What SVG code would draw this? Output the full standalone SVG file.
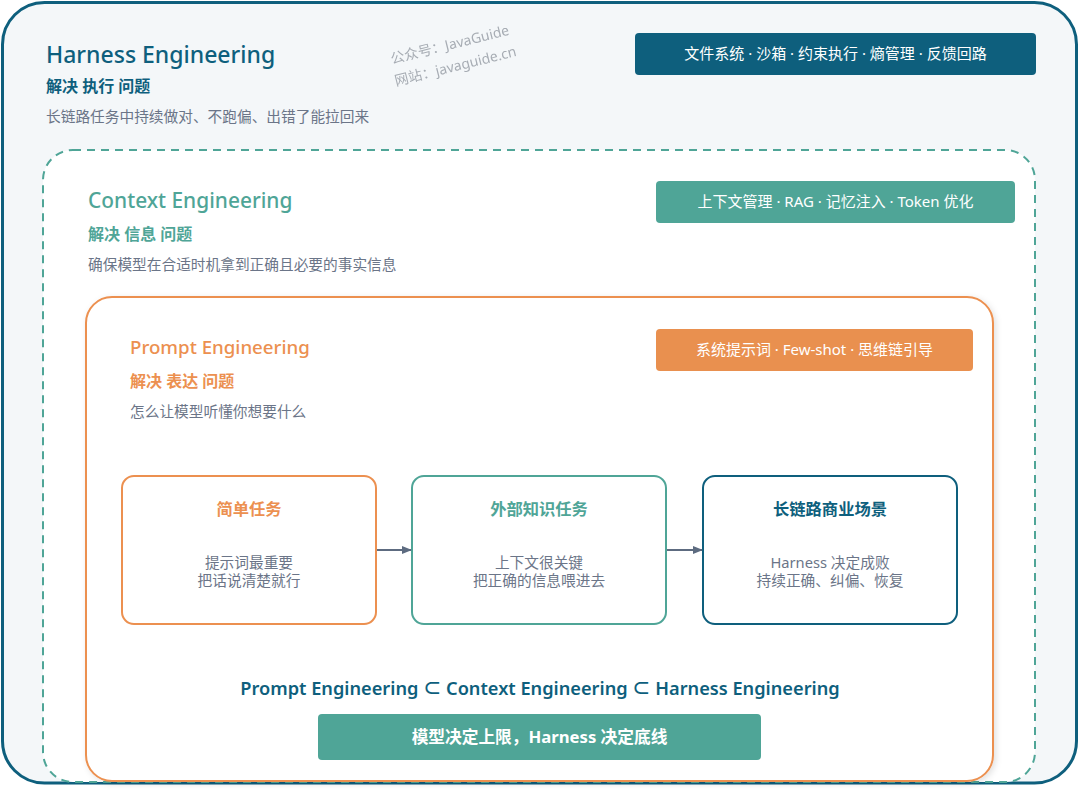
<svg xmlns="http://www.w3.org/2000/svg" width="1080" height="792" viewBox="0 0 1080 792">
<defs>
<style>
text{font-family:"Noto Sans","Noto Sans CJK SC",sans-serif;}
.h1{font-weight:500;}
.sub{font-size:16px;font-weight:700;}
.desc{font-size:14.7px;fill:#6b7588;}
.tag{font-size:15px;fill:#ffffff;text-anchor:middle;}
.btitle{font-size:16.3px;font-weight:700;text-anchor:middle;}
.bline{font-size:14.7px;fill:#6b7588;text-anchor:middle;}
.card{fill:#ffffff;stroke-width:2;}
</style>
<marker id="arr" viewBox="0 0 10 10" refX="9" refY="5" markerWidth="10" markerHeight="10" markerUnits="userSpaceOnUse" orient="auto">
<path d="M0,1 L10,5 L0,9 Z" fill="#5d6b80"/>
</marker>
<filter id="sh" x="-5%" y="-5%" width="110%" height="110%">
<feDropShadow dx="2" dy="2" stdDeviation="3" flood-color="#000" flood-opacity="0.12"/>
</filter>
</defs>
<rect x="0" y="0" width="1080" height="792" fill="#ffffff"/>
<g id="harness">
<rect x="2.5" y="2.5" width="1074" height="780.5" rx="42" fill="#f4f7f9" stroke="#0e5f7d" stroke-width="3"/>
<text class="h1" x="46" y="63" fill="#0e5f7d" font-size="23">Harness Engineering</text>
<text class="sub" x="46" y="92" fill="#0e5f7d">解决 执行 问题</text>
<text class="desc" x="46" y="122">长链路任务中持续做对、不跑偏、出错了能拉回来</text>
<rect x="635" y="33" width="401" height="42" rx="4" fill="#0e5f7d"/>
<text class="tag" x="835.5" y="59">文件系统 · 沙箱 · 约束执行 · 熵管理 · 反馈回路</text>
</g>
<g id="watermark" fill="#9aa0a8" font-size="14" opacity="0.85">
<text transform="translate(392,64) rotate(-14)">公众号：JavaGuide</text>
<text transform="translate(396,86) rotate(-14)">网站：javaguide.cn</text>
</g>
<g id="context">
<rect x="43" y="150" width="992" height="632" rx="30" fill="#ffffff" stroke="#4fa597" stroke-width="2" stroke-dasharray="8 6"/>
<text class="h1" x="88" y="208" fill="#4fa597" font-size="20.9">Context Engineering</text>
<text class="sub" x="88" y="240" fill="#4fa597">解决 信息 问题</text>
<text class="desc" x="88" y="270">确保模型在合适时机拿到正确且必要的事实信息</text>
<rect x="656" y="181" width="359" height="42" rx="4" fill="#4fa597"/>
<text class="tag" x="835.5" y="207">上下文管理 · RAG · 记忆注入 · Token 优化</text>
</g>
<g id="prompt">
<rect x="86" y="297" width="907" height="484" rx="26" fill="#ffffff" stroke="#ec9050" stroke-width="2" filter="url(#sh)"/>
<text class="h1" x="130" y="354" fill="#ec9050" font-size="18.7">Prompt Engineering</text>
<text class="sub" x="130" y="387" fill="#ec9050">解决 表达 问题</text>
<text class="desc" x="130" y="417">怎么让模型听懂你想要什么</text>
<rect x="656" y="329" width="317" height="42" rx="4" fill="#e9904f"/>
<text class="tag" x="814.5" y="355">系统提示词 · Few-shot · 思维链引导</text>
</g>
<g id="simple">
<rect class="card" x="122" y="476" width="254" height="148" rx="12" stroke="#ec9050"/>
<text class="btitle" x="249" y="515" fill="#ec9050">简单任务</text>
<text class="bline" x="249" y="568">提示词最重要</text>
<text class="bline" x="249" y="586">把话说清楚就行</text>
</g>
<g id="knowledge">
<rect class="card" x="412" y="476" width="254" height="148" rx="12" stroke="#4fa597"/>
<text class="btitle" x="539" y="515" fill="#4fa597">外部知识任务</text>
<text class="bline" x="539" y="568">上下文很关键</text>
<text class="bline" x="539" y="586">把正确的信息喂进去</text>
</g>
<g id="business">
<rect class="card" x="703" y="476" width="254" height="148" rx="12" stroke="#0e5f7d"/>
<text class="btitle" x="830" y="515" fill="#0e5f7d">长链路商业场景</text>
<text class="bline" x="830" y="568">Harness 决定成败</text>
<text class="bline" x="830" y="586">持续正确、纠偏、恢复</text>
</g>
<g id="connectors" stroke="#5d6b80" stroke-width="2">
<line x1="377" y1="550" x2="411" y2="550" marker-end="url(#arr)"/>
<line x1="667" y1="550" x2="702" y2="550" marker-end="url(#arr)"/>
</g>
<g id="summary">
<text x="540" y="695" text-anchor="middle" font-size="18.2" font-weight="600" fill="#0e5f7d">Prompt Engineering ⊂ Context Engineering ⊂ Harness Engineering</text>
<rect x="318" y="714" width="443" height="46" rx="4" fill="#4fa597"/>
<text x="539.5" y="743" text-anchor="middle" font-size="16.7" font-weight="700" fill="#ffffff">模型决定上限，Harness 决定底线</text>
</g>
</svg>
